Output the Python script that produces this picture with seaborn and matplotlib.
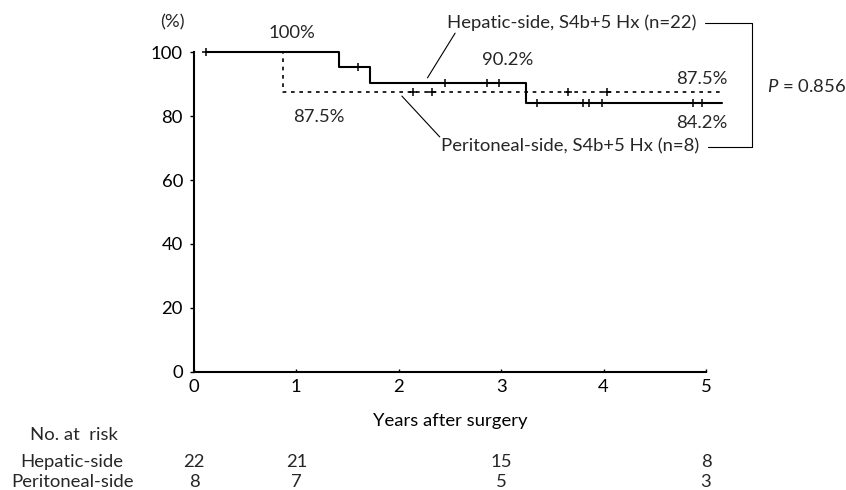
import numpy as np
import pandas as pd
import matplotlib
matplotlib.use("Agg")
import matplotlib.pyplot as plt
import matplotlib.transforms as mtransforms
import seaborn as sns

# ---- data ----
hep_times = [0.12, 1.42, 1.72, 3.24, 5.16]
hep_surv = [100, 95.5, 90.5, 84.2, 84.2]
hep_censor = [0.12, 1.60, 2.45, 2.86, 2.98, 3.35, 3.80, 3.86, 3.98, 4.87, 4.96]

per_times = [0.12, 0.87, 5.17]
per_surv = [100, 87.5, 87.5]
per_censor = [2.14, 2.32, 3.65, 4.03]

risk_times = [0, 1, 3, 5]
risk_hep = [22, 21, 15, 8]
risk_per = [8, 7, 5, 3]
risk_labels = ["Hepatic-side", "Peritoneal-side"]

x_ticks = [0, 1, 2, 3, 4, 5]
y_ticks = [0, 20, 40, 60, 80, 100]

hep_name = "Hepatic-side, S4b+5 Hx (n=22)"
per_name = "Peritoneal-side, S4b+5 Hx (n=8)"
p_text = "$\\it{P}$ = 0.856"

sns.set_theme(style="white")
plt.rcParams["font.family"] = ["Lato", "DejaVu Sans"]
plt.rcParams["mathtext.fontset"] = "custom"
plt.rcParams["mathtext.it"] = "Lato:italic"
FS = 13.3

def surv_at(times, surv, t):
    idx = np.searchsorted(times, t, side="right") - 1
    return surv[max(idx, 0)]

df = pd.concat([
    pd.DataFrame({"t": hep_times, "s": hep_surv, "g": "Hepatic"}),
    pd.DataFrame({"t": per_times, "s": per_surv, "g": "Peritoneal"}),
])
cens = pd.concat([
    pd.DataFrame({"t": hep_censor, "s": [surv_at(hep_times, hep_surv, t) for t in hep_censor], "g": "Hepatic"}),
    pd.DataFrame({"t": per_censor, "s": [surv_at(per_times, per_surv, t) for t in per_censor], "g": "Peritoneal"}),
])

fig = plt.figure(figsize=(8.46, 4.90), dpi=100)
ax = fig.add_axes([194/846, 1-371.7/490, (706-194)/846, (371.7-52.3)/490])

sns.lineplot(data=df[df.g == "Peritoneal"], x="t", y="s", ax=ax, color="black",
             drawstyle="steps-post", estimator=None, sort=False, lw=1.2,
             dashes=False, linestyle=(0, (2.2, 2.8)), clip_on=False)
sns.lineplot(data=df[df.g == "Hepatic"], x="t", y="s", ax=ax, color="black",
             drawstyle="steps-post", estimator=None, sort=False, lw=1.5, clip_on=False)
sns.scatterplot(data=cens, x="t", y="s", ax=ax, marker="+", color="black",
                s=40, linewidth=1.1, clip_on=False, legend=False)

ax.set_xlim(0, 5)
ax.set_ylim(0, 100)
ax.set_xticks(x_ticks)
ax.set_yticks(y_ticks)
ax.tick_params(axis="both", labelsize=FS, colors="black")
ax.tick_params(axis="y", direction="out", length=3, width=1, pad=5, left=True)
ax.tick_params(axis="x", direction="in", length=2, width=1, pad=5, bottom=True)
for s in ["top", "right"]:
    ax.spines[s].set_visible(False)
for s in ["left", "bottom"]:
    ax.spines[s].set_color("black")
    ax.spines[s].set_linewidth(1.5)
ax.set_xlabel("Years after surgery", fontsize=FS, labelpad=13, color="black")
ax.set_ylabel("")
ax.set_facecolor("white")

# annotations
ax.text(-0.21, 109.5, "(%)", ha="center", va="center", fontsize=FS, clip_on=False)
ax.text(0.96, 106, "100%", ha="center", va="center", fontsize=FS, clip_on=False)
ax.text(0.97, 79.7, "87.5%", ha="left", va="center", fontsize=FS, clip_on=False)
ax.text(3.06, 97.6, "90.2%", ha="center", va="center", fontsize=FS, clip_on=False)
ax.text(5.21, 91.6, "87.5%", ha="right", va="center", fontsize=FS, clip_on=False)
ax.text(5.21, 77.9, "84.2%", ha="right", va="center", fontsize=FS, clip_on=False)
ax.text(3.69, 109.2, hep_name, ha="center", va="center", fontsize=FS, clip_on=False)
ax.text(3.67, 70.4, per_name, ha="center", va="center", fontsize=FS, clip_on=False)
ax.text(5.60, 89.4, p_text, ha="left", va="center", fontsize=FS, clip_on=False)

lk = dict(color="black", lw=0.8, clip_on=False)
ax.plot([2.28, 2.55], [92.0, 106.0], **lk)
ax.plot([2.03, 2.40], [86.3, 73.5], **lk)
ax.plot([4.99, 5.45, 5.45, 5.02], [109.2, 109.2, 70.4, 70.4], **lk)

# risk table
blend = mtransforms.blended_transform_factory(ax.transData, fig.transFigure)
fig.text(74/846, 1-435/490, "No. at  risk", ha="center", va="center", fontsize=FS)
row_y = [1-462/490, 1-482/490]
for lab, y in zip(risk_labels, row_y):
    fig.text(72/846, y, lab, ha="center", va="center", fontsize=FS)
for vals, y in zip([risk_hep, risk_per], row_y):
    for t, v in zip(risk_times, vals):
        ax.text(t, y, str(v), transform=blend, ha="center", va="center", fontsize=FS, clip_on=False)

fig.savefig("out.png", dpi=100, facecolor="white")
